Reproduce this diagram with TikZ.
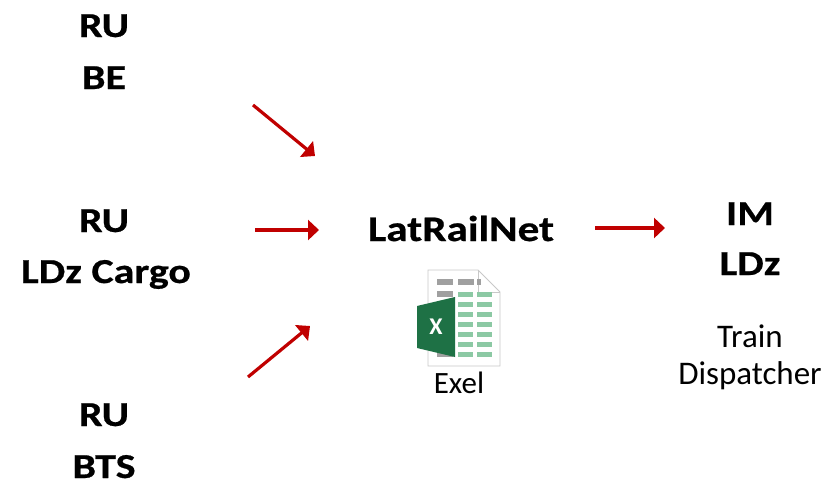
\documentclass[tikz,border=0pt]{standalone}
\usepackage{fontspec}
\setmainfont{Carlito}
\newfontfamily\widebold{Carlito}[FakeStretch=1.2, FakeBold=0.6]
\usetikzlibrary{arrows.meta}
\definecolor{arrred}{HTML}{C00000}
\definecolor{xlgreen}{HTML}{1E7145}
\definecolor{celllg}{HTML}{8CC9A4}
\definecolor{cellgr}{HTML}{A0A0A0}
\definecolor{pageedge}{HTML}{C8C8C8}
\tikzset{
  bigbold/.style={anchor=base, inner sep=0pt, font=\fontsize{35}{42}\selectfont\widebold\bfseries},
  plain/.style={anchor=base, inner sep=0pt, font=\fontsize{33}{40}\selectfont},
  flow/.style={draw=arrred, line width=3.2pt, -{Triangle[length=11pt,width=20pt]}},
}
\begin{document}
\begin{tikzpicture}[x=1pt,y=-1pt]
\useasboundingbox (0,0) rectangle (839,482);
% left labels
\node[bigbold] (ru1) at (104,37) {RU};
\node[bigbold] (be)  at (104,89) {BE};
\node[bigbold] (ru2) at (104,232) {RU};
\node[bigbold] (ldzc) at (106,283) {LDz Cargo};
\node[bigbold] (ru3) at (104,426) {RU};
\node[bigbold] (bts) at (104,478) {BTS};
% centre
\node[bigbold, font=\fontsize{36}{42}\selectfont\widebold\bfseries] (lrn) at (461,241) {LatRailNet};
\node[plain, font=\fontsize{31}{36}\selectfont] (exel) at (459,393) {Exel};
% right
\node[bigbold] (im) at (750,225) {IM};
\node[bigbold] (ldz) at (750,275) {LDz};
\node[plain] (train) at (750,347) {Train};
\node[plain] (disp) at (750,384) {Dispatcher};
% Excel icon
\fill[white, draw=pageedge, line width=0.8pt] (428,270) -- (478,270) -- (500,292) -- (500,366) -- (428,366) -- cycle;
\draw[pageedge, line width=0.8pt] (478,270) -- (478,292) -- (500,292);
\foreach \c in {437,458}{\fill[cellgr] (\c,279) rectangle ++(16,6);}
\fill[cellgr] (477,279) rectangle (481,285);
\fill[cellgr] (437,291) rectangle ++(16,6);
\foreach \r in {292,302,312,322,332,342,352}{
  \fill[celllg] (458,\r) rectangle ++(15,5);
  \fill[celllg] (477,\r) rectangle ++(15,5);
}
\foreach \r in {302,312,322,332,342,352}{\fill[cellgr] (437,\r) rectangle ++(16,5);}
\fill[xlgreen] (417,306) -- (455,297) -- (455,357) -- (417,348) -- cycle;
\node[anchor=center, inner sep=0pt, text=white, font=\fontsize{24}{28}\selectfont\bfseries] (xl) at (436,327) {X};
% arrows
\coordinate (a1s) at (253,105); \coordinate (a1e) at (315,156);
\coordinate (a2s) at (255,230); \coordinate (a2e) at (319,230);
\coordinate (a3s) at (248,377); \coordinate (a3e) at (310,326);
\coordinate (a4s) at (595,228); \coordinate (a4e) at (665,228);
\draw[flow] (a1s) -- (a1e);
\draw[flow] (a2s) -- (a2e);
\draw[flow] (a3s) -- (a3e);
\draw[flow] (a4s) -- (a4e);
\end{tikzpicture}
\end{document}
